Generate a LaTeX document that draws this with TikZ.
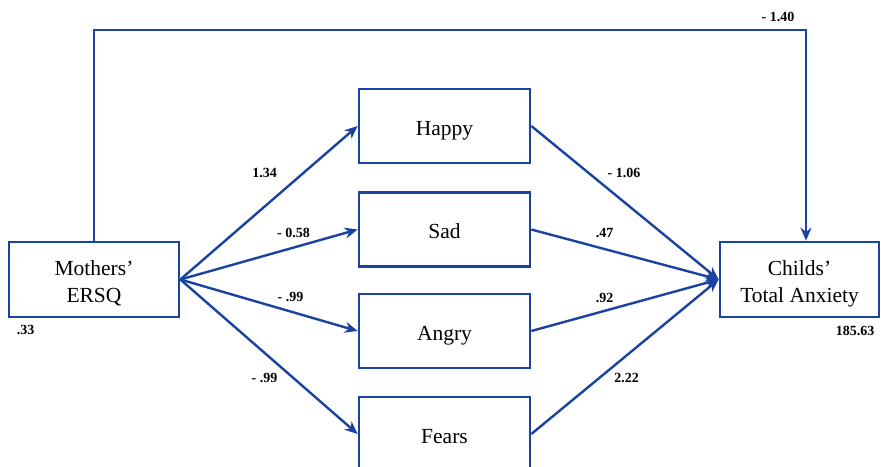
\documentclass[tikz,border=0pt]{standalone}
\usepackage{fontspec}
\setmainfont{Liberation Serif}
\usetikzlibrary{arrows.meta}
\definecolor{pathblue}{RGB}{26,66,160}
\newcommand{\boxtxt}[1]{\raisebox{-4pt}[\height][\depth]{\begin{tabular}{@{}c@{}}#1\end{tabular}}}
\begin{document}
\begin{tikzpicture}[x=1pt,y=-1pt,
  box/.style={draw=pathblue,line width=2.7pt,fill=white,rectangle,inner sep=0pt,
    font=\fontsize{21.5}{27}\selectfont},
  conn/.style={draw=pathblue,line width=2.4pt,-{Stealth[length=13pt,width=11pt]}},
  coef/.style={font=\fontsize{14}{15}\selectfont\bfseries,inner sep=0pt}]
\useasboundingbox (0,0) rectangle (881,466);
\node[box,minimum width=170pt,minimum height=75pt] (m) at (94,279.5) {\boxtxt{Mothers’\\ERSQ}};
\node[box,minimum width=159pt,minimum height=75pt] (c) at (799.5,279.5) {\boxtxt{Childs’\\Total Anxiety}};
\node[box,minimum width=171pt,minimum height=74pt] (h) at (444.5,126) {\boxtxt{Happy}};
\node[box,minimum width=171pt,minimum height=74pt] (s) at (444.5,229.5) {\boxtxt{Sad}};
\node[box,minimum width=171pt,minimum height=74pt] (a) at (444.5,331) {\boxtxt{Angry}};
\node[box,minimum width=171pt,minimum height=74pt] (f) at (444.5,434) {\boxtxt{Fears}};
\coordinate (tl) at (94,30);
\coordinate (tr) at (806,30);
\draw[conn] (m.north) -- (tl) -- (tr) -- (c.north -| tr);
\foreach \t in {h,s,a,f} {
  \draw[conn] (m.east) -- (\t.west);
  \draw[conn] (\t.east) -- (c.west);
}
\node[coef] (l140) at (778,17) {- 1.40};
\node[coef] (l134) at (264.5,173) {1.34};
\node[coef] (l058) at (293.5,233) {- 0.58};
\node[coef] (l099a) at (290.5,297) {- .99};
\node[coef] (l099b) at (264.5,378) {- .99};
\node[coef] (l106) at (624,173) {- 1.06};
\node[coef] (l47) at (604.5,233) {.47};
\node[coef] (l92) at (604.5,298) {.92};
\node[coef] (l222) at (626.5,378) {2.22};
\node[coef] (l33) at (25.5,330) {.33};
\node[coef] (l185) at (855,331) {185.63};
\end{tikzpicture}
\end{document}
